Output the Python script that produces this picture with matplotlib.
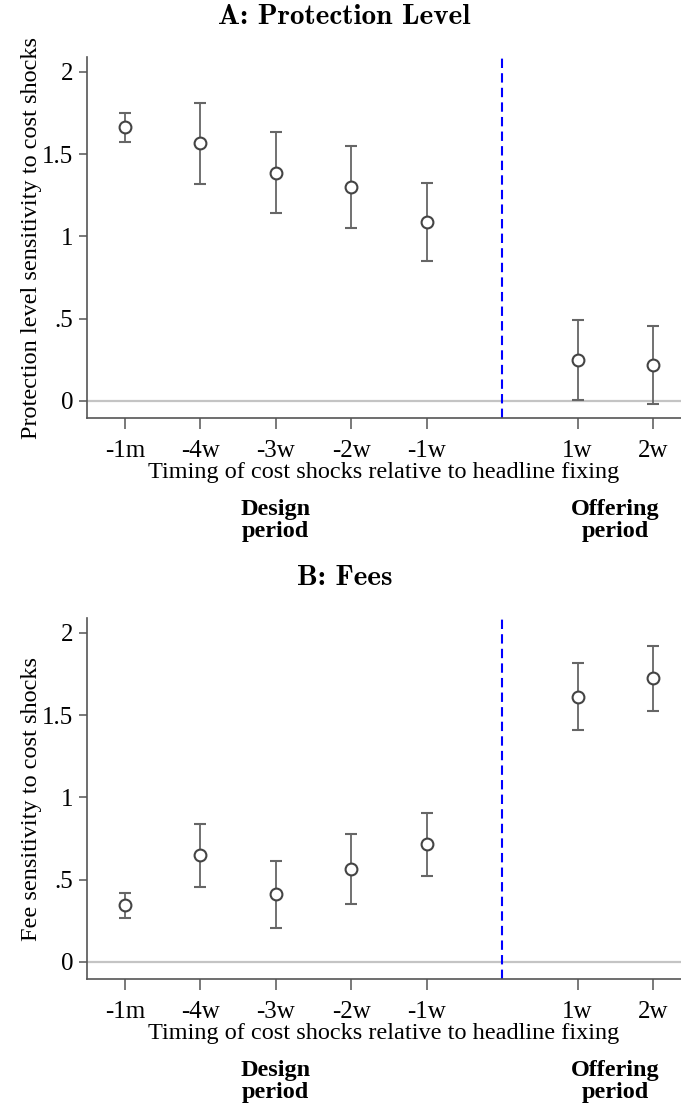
import matplotlib
matplotlib.use("Agg")
import matplotlib.pyplot as plt

# positions of the estimates on the x axis (6 = headline fixing)
xpos = [1, 2, 3, 4, 5, 7, 8]
xlabels = ["-1m", "-4w", "-3w", "-2w", "-1w", "1w", "2w"]

# Panel A: protection level
prot_est = [1.663, 1.565, 1.386, 1.297, 1.090, 0.250, 0.221]
prot_hi = [1.752, 1.811, 1.632, 1.551, 1.325, 0.494, 0.457]
prot_lo = [1.571, 1.321, 1.140, 1.049, 0.852, 0.004, -0.016]

# Panel B: fees
fee_est = [0.343, 0.647, 0.410, 0.567, 0.714, 1.612, 1.723]
fee_hi = [0.419, 0.841, 0.613, 0.775, 0.904, 1.815, 1.920]
fee_lo = [0.264, 0.454, 0.204, 0.351, 0.525, 1.410, 1.525]

yticks = [0, 0.5, 1, 1.5, 2]
ytick_labels = ["0", ".5", "1", "1.5", "2"]

serif = ["Liberation Serif", "DejaVu Serif"]
plt.rcParams["font.family"] = serif

fig = plt.figure(figsize=(6.81, 11.06), dpi=100)
axA = fig.add_axes([0.1278, 0.622, 0.8722, 0.3265])
axB = fig.add_axes([0.1278, 0.1148, 0.8722, 0.3264])

def panel(ax, est, lo, hi, ylabel, title, title_y):
    ax.axhline(0, color="#c4c4c4", lw=1.6, zorder=1)
    ax.axvline(6, color="#0000ff", lw=1.5, ls=(0, (4.5, 2.5)), zorder=2)
    yerr = [[e - l for e, l in zip(est, lo)], [h - e for e, h in zip(est, hi)]]
    ax.errorbar(xpos, est, yerr=yerr, fmt="o", mfc="white", mec="#444444",
                mew=1.5, ms=8.5, ecolor="#666666", elinewidth=1.3,
                capsize=4, capthick=1.3, zorder=3)
    ax.set_xlim(0.5, 8.37)
    ax.set_ylim(-0.104, 2.09)
    ax.set_xticks(xpos)
    ax.set_xticklabels(xlabels)
    ax.set_yticks(yticks)
    ax.set_yticklabels(ytick_labels)
    ax.tick_params(axis="both", labelsize=18, color="#555555", width=1.1)
    ax.tick_params(axis="x", length=8, pad=8)
    ax.tick_params(axis="y", length=6, pad=4)
    for s in ["top", "right"]:
        ax.spines[s].set_visible(False)
    for s in ["left", "bottom"]:
        ax.spines[s].set_color("#555555")
        ax.spines[s].set_linewidth(1.2)
    ax.set_xlabel("Timing of cost shocks relative to headline fixing",
                  fontsize=17.5, labelpad=0)
    ax.set_ylabel(ylabel, fontsize=17.5, labelpad=0)
    # title centred on the figure, not the axes
    fig.text(0.506, title_y, title, family=["cmb10", "DejaVu Serif"],
             fontsize=21, ha="center", va="center")
    # period annotations below the axis
    for xc, txt in [(3, "Design\nperiod"), (7.5, "Offering\nperiod")]:
        ax.text(xc, -0.595, txt, fontsize=17.5, fontweight="bold",
                ha="center", va="top", linespacing=1.1)

panel(axA, prot_est, prot_lo, prot_hi,
      "Protection level sensitivity to cost shocks", "A: Protection Level",
      1 - 17 / 1106)
panel(axB, fee_est, fee_lo, fee_hi,
      "Fee sensitivity to cost shocks", "B: Fees", 1 - 578 / 1106)

fig.savefig("out.png", dpi=100)
